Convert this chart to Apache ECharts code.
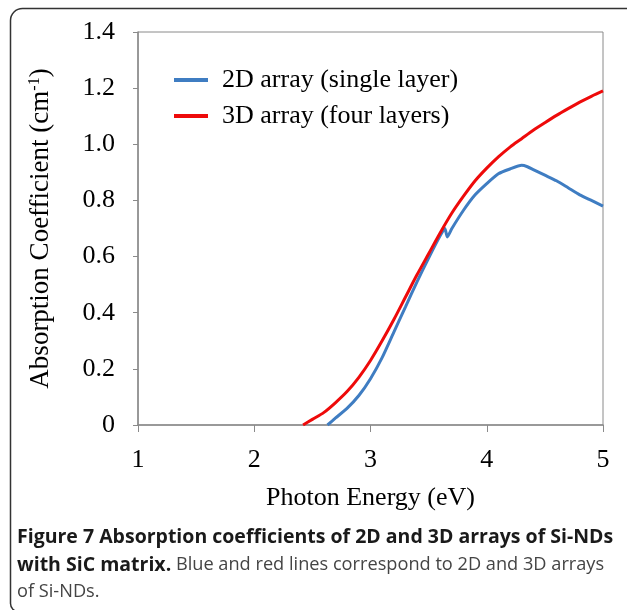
<!DOCTYPE html>
<html>
<head>
<meta charset="utf-8">
<script src="https://cdn.jsdelivr.net/npm/echarts@6/dist/echarts.min.js"></script>
<style>
  html, body { margin: 0; padding: 0; background: #fff; }
  #chart { width: 627px; height: 610px; }
</style>
</head>
<body>
<div id="chart"></div>
<script>
// values
const xTicks = [1, 2, 3, 4, 5];
const yTicks = [0, 0.2, 0.4, 0.6, 0.8, 1.0, 1.2, 1.4];

const seriesNames = ['2D array (single layer)', '3D array (four layers)'];

const energy2D = [2.63, 2.7, 2.8, 2.9, 3.0, 3.1, 3.2, 3.3, 3.4, 3.5, 3.6, 3.64, 3.66, 3.7, 3.8, 3.9, 4.0, 4.1, 4.2, 4.3, 4.35, 4.4, 4.5, 4.6, 4.7, 4.8, 4.9, 5.0];
const absorb2D = [0, 0.025, 0.06, 0.105, 0.165, 0.24, 0.33, 0.42, 0.51, 0.595, 0.675, 0.70, 0.67, 0.70, 0.765, 0.82, 0.86, 0.895, 0.912, 0.925, 0.92, 0.91, 0.89, 0.87, 0.845, 0.82, 0.80, 0.78];

const energy3D = [2.42, 2.5, 2.6, 2.7, 2.8, 2.9, 3.0, 3.1, 3.2, 3.3, 3.4, 3.5, 3.6, 3.7, 3.8, 3.9, 4.0, 4.1, 4.2, 4.3, 4.4, 4.5, 4.6, 4.7, 4.8, 4.9, 5.0];
const absorb3D = [0, 0.02, 0.045, 0.08, 0.12, 0.17, 0.23, 0.30, 0.375, 0.455, 0.535, 0.61, 0.685, 0.755, 0.815, 0.87, 0.915, 0.955, 0.99, 1.02, 1.05, 1.077, 1.103, 1.127, 1.15, 1.171, 1.19];

const captionLines = [
  '{b|Figure 7 Absorption coefficients of 2D and 3D arrays of Si-NDs}',
  '{b|with SiC matrix.} Blue and red lines correspond to 2D and 3D arrays',
  'of Si-NDs.'
];

const serif = '"Liberation Serif", "Times New Roman", serif';
const sans = '"Open Sans", "Noto Sans", sans-serif';

const zip = (xs, ys) => xs.map((x, i) => [x, ys[i]]);

const chart = echarts.init(document.getElementById('chart'), null, { renderer: 'canvas' });

const option = {
  animation: false,
  backgroundColor: '#fff',
  grid: {
    left: 138, right: 24, top: 32, bottom: 185,
    outerBoundsMode: 'none',
    show: true, borderColor: '#8a8a8a', borderWidth: 1
  },
  legend: {
    orient: 'vertical',
    left: 169, top: 62,
    icon: 'rect',
    itemWidth: 34, itemHeight: 4, itemGap: 10,
    data: seriesNames,
    textStyle: { fontFamily: serif, fontSize: 26, color: '#000', padding: [0, 0, 0, 9], lineHeight: 25 }
  },
  xAxis: {
    type: 'value',
    min: xTicks[0], max: xTicks[xTicks.length - 1], interval: 1,
    name: 'Photon Energy (eV)',
    nameLocation: 'middle', nameGap: 60,
    nameTextStyle: { fontFamily: serif, fontSize: 26, color: '#000' },
    axisLine: { lineStyle: { color: '#8a8a8a', width: 1.5 } },
    axisTick: { show: true, inside: false, length: 7, lineStyle: { color: '#8a8a8a' } },
    axisLabel: { margin: 22, fontFamily: serif, fontSize: 26, color: '#000' },
    splitLine: { show: false }
  },
  yAxis: {
    type: 'value',
    min: yTicks[0], max: yTicks[yTicks.length - 1], interval: 0.2,
    name: 'Absorption Coefficient (cm{sup|-1})',
    nameLocation: 'middle', nameGap: 84, nameRotate: 90,
    nameTextStyle: {
      fontFamily: serif, fontSize: 27, color: '#000',
      rich: { sup: { fontFamily: serif, fontSize: 16, color: '#000', verticalAlign: 'top', padding: [0, 0, 10, 0] } }
    },
    axisLine: { show: true, lineStyle: { color: '#8a8a8a', width: 1.5 } },
    axisTick: { show: true, inside: false, length: 5, lineStyle: { color: '#8a8a8a' } },
    axisLabel: {
      margin: 23, fontFamily: serif, fontSize: 26, color: '#000',
      formatter: (v) => (v === 0 ? '0' : v.toFixed(1))
    },
    splitLine: { show: false }
  },
  series: [
    {
      name: seriesNames[0], type: 'line',
      data: zip(energy2D, absorb2D),
      showSymbol: false, smooth: 0.2,
      color: '#3f7dc2',
      lineStyle: { width: 3, color: '#3f7dc2' },
      z: 2
    },
    {
      name: seriesNames[1], type: 'line',
      data: zip(energy3D, absorb3D),
      showSymbol: false, smooth: 0.3,
      color: '#ee0a0a',
      lineStyle: { width: 3, color: '#ee0a0a' },
      z: 3
    }
  ],
  graphic: [
    {
      type: 'rect', silent: true,
      shape: { x: 10.5, y: 8.5, width: 622, height: 603, r: [12, 6, 8, 8] },
      style: { fill: 'none', stroke: '#333', lineWidth: 1.5 }
    }
  ].concat(captionLines.map((line, i) => ({
    type: 'text', left: 17, top: 527 + i * 28, silent: true,
    style: {
      text: line,
      fontFamily: sans, fontSize: 18.2, fill: '#444',
      rich: { b: { fontFamily: sans, fontSize: 19.5, fontWeight: 'bold', fill: '#1a1a1a' } }
    }
  })))
};

chart.setOption(option);
</script>
</body>
</html>
